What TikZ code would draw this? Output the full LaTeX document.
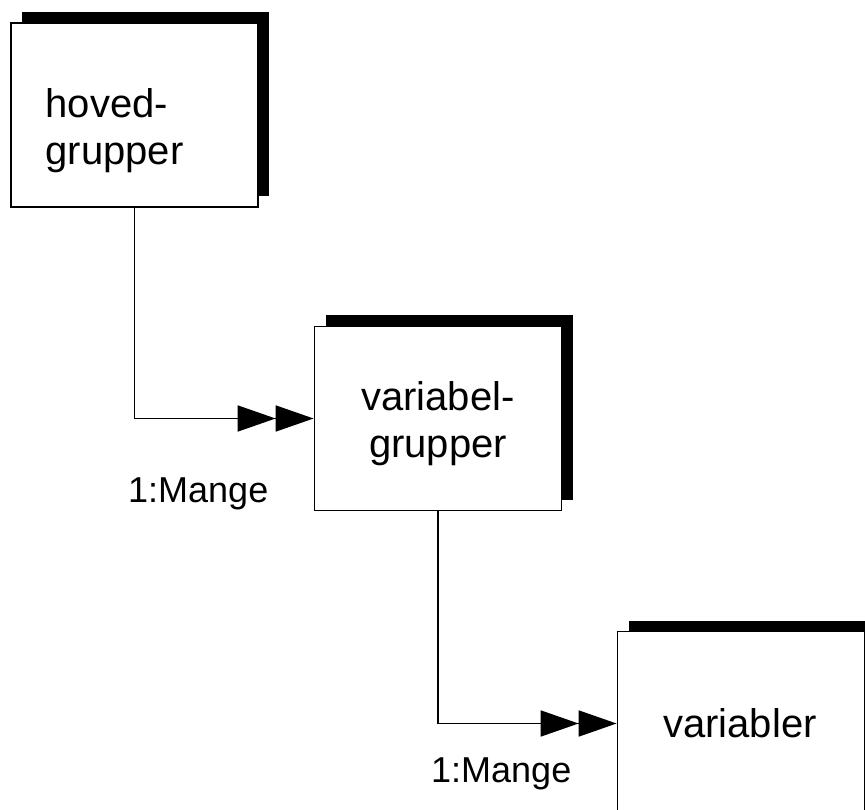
\documentclass[tikz,border=0pt]{standalone}
\usepackage{fontspec}
\setmainfont{Liberation Sans}
\usetikzlibrary{arrows.meta,shadows}
\tikzset{
  entity/.style={draw=black, line width=1.8pt, fill=white,
    minimum width=247pt, minimum height=184pt, inner sep=0pt,
    general shadow={fill=black, shadow xshift=11pt, shadow yshift=11pt}},
  boxlabel/.style={font=\fontsize{40}{47}\selectfont, inner sep=0pt},
  cardinality/.style={font=\fontsize{36}{40}\selectfont, inner sep=0pt},
  relation/.style={line width=1.8pt,
    -{Triangle[length=38pt,width=26pt,sep=0pt]Triangle[length=38pt,width=26pt]}},
}
\begin{document}
\begin{tikzpicture}[x=1pt,y=-1pt]
\useasboundingbox (0,0) rectangle (865,810);

% entity boxes with offset shadows
\node[entity] (b1) at (134.5,115) {};
\node[entity] (b2) at (438,418.5) {};
\node[entity] (b3) at (741,723.5) {};

% box captions (multi-line nodes sit on the baseline of their last line)
\node[boxlabel, align=left, anchor=base west] (t1) at (45.5,165) {hoved-\\grupper};
\node[boxlabel, align=center, anchor=base] (t2) at (438,457) {variabel-\\grupper};
\node[boxlabel, anchor=base] (t3) at (740,737) {variabler};

% one-to-many relations
\draw[relation] (b1.south) |- (b2.west);
\draw[relation] (b2.south) |- (b3.west);

% cardinality labels
\node[cardinality, anchor=base west] (c1) at (128,502) {1:Mange};
\node[cardinality, anchor=base west] (c2) at (431,782) {1:Mange};
\end{tikzpicture}
\end{document}
